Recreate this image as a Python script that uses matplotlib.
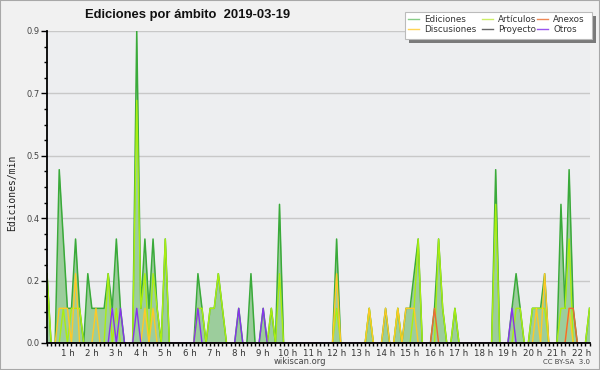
import numpy as np
import matplotlib
matplotlib.use("Agg")
import matplotlib.pyplot as plt
from matplotlib.lines import Line2D
from matplotlib.patches import Rectangle
from matplotlib.ticker import FixedLocator, MultipleLocator

# ---- data: edits per 10-minute bin (bins ending 00:10 ... 22:20) ----
bin_end_minutes = list(range(10, 1341, 10))

ediciones = [2,0,0,5,3,1,1,3,1,0, 2,1,1,1,1,2,1,3,1,0,
             0,0,9,1,3,1,3,1,0,3, 0,0,0,0,0,0,0,2,1,0,
             1,1,2,1,0,0,0,1,0,0, 2,0,0,1,0,1,0,4,0,0,
             0,0,0,0,0,0,0,0,0,0, 0,3,0,0,0,0,0,0,0,1,
             0,0,0,1,0,0,1,0,1,1, 2,3,0,0,0,1,3,1,0,0,
             1,0,0,0,0,0,0,0,0,0, 5,0,0,0,1,2,1,0,0,1,
             1,1,2,0,0,0,4,1,5,1, 0,0,0,1]
articulos = [2,0,0,0,1,0,1,1,1,0, 0,0,0,0,0,2,0,1,0,0,
             0,0,7,1,2,0,2,1,0,3, 0,0,0,0,0,0,0,1,1,0,
             1,1,2,1,0,0,0,0,0,0, 0,0,0,0,0,1,0,2,0,0,
             0,0,0,0,0,0,0,0,0,0, 0,1,0,0,0,0,0,0,0,1,
             0,0,0,0,0,0,1,0,0,0, 1,3,0,0,0,0,3,1,0,0,
             1,0,0,0,0,0,0,0,0,0, 4,0,0,0,0,1,1,0,0,1,
             1,1,1,0,0,0,1,1,3,0, 0,0,0,1]
discusiones = [0,0,0,1,1,1,0,2,0,0, 0,0,1,0,0,0,0,0,0,0,
               0,0,0,0,1,0,1,0,0,0, 0,0,0,0,0,0,0,0,0,0,
               0,0,0,0,0,0,0,0,0,0, 0,0,0,0,0,0,0,0,0,0,
               0,0,0,0,0,0,0,0,0,0, 0,2,0,0,0,0,0,0,0,1,
               0,0,0,1,0,0,1,0,1,1, 1,0,0,0,0,0,0,0,0,0,
               0,0,0,0,0,0,0,0,0,0, 0,0,0,0,0,0,0,0,0,0,
               1,0,2,0,0,0,0,0,1,0, 0,0,0,0]
anexos = [0]*95 + [1] + [0]*32 + [1, 1] + [0]*4
proyecto = [0]*134
otros = [0]*16 + [1, 0, 1] + [0]*3 + [1] + [0]*14 + [1] + [0]*9 + [1] + [0]*5 + [1] \
        + [0]*60 + [1] + [0]*19

series_names = ["Ediciones", "Artículos", "Anexos", "Discusiones", "Proyecto", "Otros"]
series_colors = ["#3aaa3a", "#aaee11", "#ee6a33", "#ffc926", "#555555", "#8833ee"]
legend_colors = ["#88cc88", "#ccee66", "#ee8855", "#ffd555", "#666666", "#9955ee"]
hour_ticks = list(range(1, 23))
hour_labels = [f"{h} h" for h in hour_ticks]
y_ticks = [0.0, 0.18, 0.36, 0.54, 0.72, 0.9]

title = "Ediciones por ámbito  2019-03-19"

# ---- figure ----
fig = plt.figure(figsize=(6.0, 3.7), dpi=100, facecolor="#f1f1f1")
fig.patches.append(Rectangle((0, 0), 1, 1, transform=fig.transFigure,
                             fill=False, edgecolor="#a8a8a8", lw=1.5, zorder=0))
ax = fig.add_axes([47/600, 1-343/370, (590-47)/600, (343-31)/370])
ax.set_facecolor("#edeef0")

x = np.array(bin_end_minutes) / 60.0
rate = lambda arr: np.array(arr) / 10.0

tot = rate(ediciones)
ax.fill_between(x, 0, tot, color="#9ccd9c", lw=0, zorder=1.5)
ax.plot(x, tot, color=series_colors[0], lw=1.1, zorder=2)
order = [(articulos, 1), (discusiones, 3), (anexos, 2), (proyecto, 4), (otros, 5)]
for arr, ci in order:
    ax.plot(x, rate(arr), color=series_colors[ci], lw=1.0, zorder=2.1)

ax.set_xlim(x[0], x[-1] + 0.02)
ax.set_ylim(0, 0.9)

ax.yaxis.set_major_locator(FixedLocator(y_ticks))
ax.set_yticklabels([f"{v:.1f}" for v in y_ticks])
ax.yaxis.set_minor_locator(MultipleLocator(0.045))
ax.set_xticks(hour_ticks)
ax.set_xticklabels(hour_labels)
ax.xaxis.set_minor_locator(MultipleLocator(1/6))

ax.grid(axis="y", which="major", color="#c8c8c8", lw=1.0)
ax.set_axisbelow(True)
for s in ["top", "right"]:
    ax.spines[s].set_visible(False)
for s in ["left", "bottom"]:
    ax.spines[s].set_color("black")
    ax.spines[s].set_linewidth(1.3)
    ax.spines[s].set_zorder(3)

ax.tick_params(axis="y", which="major", length=4.5, width=1, color="black",
               labelsize=6, labelcolor="#444444", pad=1)
ax.tick_params(axis="y", which="minor", length=2.5, width=1, color="black")
ax.tick_params(axis="x", which="both", length=2.5, width=1, color="black",
               labelsize=6.2, labelcolor="#333333", pad=1.5)

fig.text(85/600, 1-15/370, title, fontsize=9.4, fontweight="bold",
         family="Liberation Sans", ha="left", va="center", color="#111111")
fig.text(12/600, 1-193/370, "Ediciones/min", rotation=90, fontsize=7,
         family="DejaVu Sans Mono", ha="center", va="center", color="#222222")
fig.text(300/600, 1-361/370, "wikiscan.org", fontsize=6, ha="center",
         va="center", color="#444444")
fig.text(590/600, 1-362/370, "CC BY-SA  3.0", fontsize=5, ha="right",
         va="center", color="#444444")

# ---- legend box with shadow ----
lx0, ly0, lx1, ly1 = 405, 12, 592, 39
fig.patches.append(Rectangle((( lx0+4)/600, 1-(ly1+4)/370), (lx1-lx0)/600,
                             (ly1-ly0)/370, transform=fig.transFigure,
                             facecolor="#7a7a7a", edgecolor="none", zorder=5))
fig.patches.append(Rectangle((lx0/600, 1-ly1/370), (lx1-lx0)/600,
                             (ly1-ly0)/370, transform=fig.transFigure,
                             facecolor="white", edgecolor="#bbbbbb", lw=0.8,
                             zorder=6))
cols = [408, 482, 537]
rows = [19, 29]
pos = [(0, 0), (1, 0), (2, 0), (0, 1), (1, 1), (2, 1)]
for name, col, (c, r) in zip(series_names, legend_colors, pos):
    xl = cols[c]
    yy = 1 - rows[r]/370
    fig.lines.append(Line2D([xl/600, (xl+11)/600], [yy, yy],
                            transform=fig.transFigure, color=col, lw=1.0,
                            zorder=7))
    fig.text((xl+16)/600, yy, name, fontsize=6.3, ha="left", va="center",
             color="#333333", zorder=7)

fig.savefig("out.png", dpi=100, facecolor=fig.get_facecolor())
